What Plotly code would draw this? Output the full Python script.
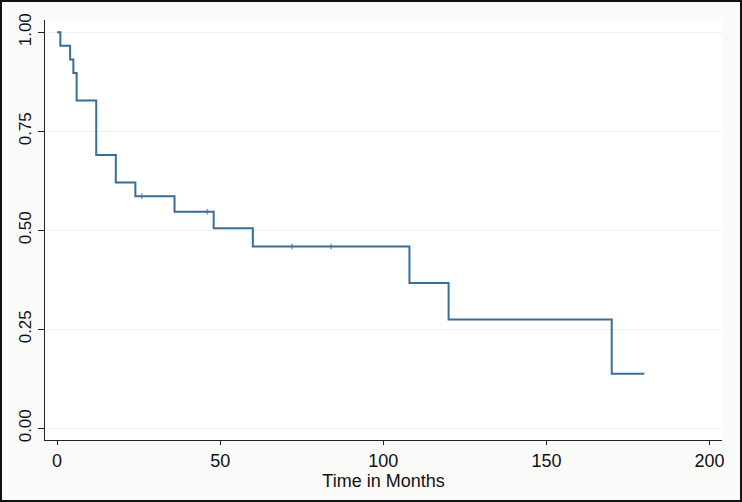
import plotly.graph_objects as go

# Kaplan-Meier step data (time in months, survival probability)
times = [0, 1, 4, 5, 6, 12, 18, 24, 36, 48, 60, 108, 120, 170, 180]
surv = [1.0, 0.966, 0.931, 0.897, 0.828, 0.690, 0.621, 0.586, 0.547, 0.505, 0.459, 0.367, 0.275, 0.138, 0.138]

# censored observations
cens_times = [26, 46, 72, 84]
cens_surv = [0.586, 0.547, 0.459, 0.459]

y_ticks = [0, 0.25, 0.5, 0.75, 1.0]
y_ticklabels = ["0.00", "0.25", "0.50", "0.75", "1.00"]
x_ticks = [0, 50, 100, 150, 200]

line_color = "#3a6d96"

fig = go.Figure()
fig.add_trace(go.Scatter(x=times, y=surv, mode="lines", line=dict(shape="hv", color=line_color, width=2),
                         hoverinfo="skip", showlegend=False))
fig.add_trace(go.Scatter(x=cens_times, y=cens_surv, mode="markers",
                         marker=dict(symbol="line-ns", size=4, line=dict(color=line_color, width=1)),
                         showlegend=False))

W, H = 742, 502
ml, mr, mt, mb = 45, 20, 20, 62
pw, ph = W - ml - mr, H - mt - mb

fig.add_shape(type="rect", xref="paper", yref="paper",
              x0=(1 - ml) / pw, x1=(W - 1 - ml) / pw,
              y0=-(mb - 1) / ph, y1=1 + (mt - 1) / ph,
              line=dict(color="#111111", width=2), fillcolor="rgba(0,0,0,0)", layer="above")

font = "Liberation Sans, Arial, Helvetica, sans-serif"
fig.update_layout(
    width=W, height=H,
    margin=dict(l=ml, r=mr, t=mt, b=mb),
    paper_bgcolor="#fafaf8",
    plot_bgcolor="#ffffff",
    font=dict(family=font, size=17, color="#111111"),
    xaxis=dict(range=[-3.7, 203.8], tickvals=x_ticks, ticks="outside", ticklen=4, tickcolor="#222",
               showline=True, linecolor="#222", linewidth=1, showgrid=False, zeroline=False,
               title=dict(text="Time in Months", font=dict(size=18), standoff=3),
               tickfont=dict(size=18)),
    yaxis=dict(range=[-0.0295, 1.031], tickvals=y_ticks, ticktext=y_ticklabels, tickangle=-90,
               ticks="outside", ticklen=6, tickcolor="#222",
               showline=True, linecolor="#222", linewidth=1,
               showgrid=True, gridcolor="#eef2f1", gridwidth=1, zeroline=False,
               tickfont=dict(size=17)),
)

fig.write_html("out.html", config={"displayModeBar": False},
               post_script="document.body.style.margin='0';document.body.style.overflow='hidden';")
